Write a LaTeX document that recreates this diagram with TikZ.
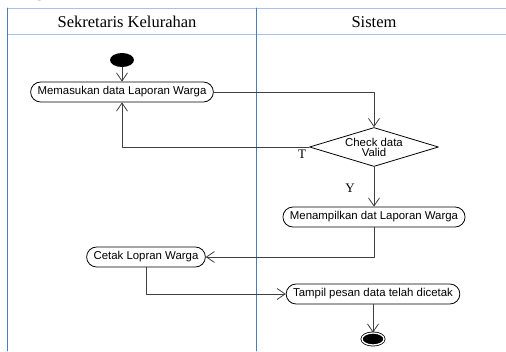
\documentclass[tikz,border=0pt]{standalone}
\usepackage{fontspec}
\setmainfont{Liberation Serif}
\setsansfont{Liberation Sans}
\usetikzlibrary{shapes.geometric,arrows.meta}
\definecolor{lanebiru}{HTML}{4A7EBB}
\definecolor{garismuda}{HTML}{A6C3E6}
\definecolor{panah}{HTML}{3F3F3F}
\begin{document}
\begin{tikzpicture}[x=1pt,y=-1pt,line cap=round,line join=round,
	aksi/.style={draw,rounded corners=10pt,minimum height=20pt,inner xsep=7pt,inner ysep=0pt,line width=0.8pt,font=\sffamily\fontsize{11.4}{12}\selectfont},
	keputusan/.style={draw,diamond,aspect=3.3,inner sep=0pt,minimum width=129pt,minimum height=39pt,line width=0.8pt,align=center,font=\sffamily\fontsize{11.4}{10}\selectfont},
	alur/.style={draw=panah,line width=0.8pt,-{Straight Barb[length=8pt,width=11pt]}},
	judul/.style={font=\fontsize{16.5}{18}\selectfont},
	syarat/.style={font=\fontsize{13}{14}\selectfont}]
	\useasboundingbox (0,0) rectangle (506,351);
	% swimlane
	\draw[garismuda,line width=0.8pt] (7,8)--(506,8) (7,34)--(506,34);
	\draw[lanebiru,line width=0.8pt] (7,8)--(7,351) (256,8)--(256,351);
	\node (potongan) at (40,-5) [anchor=base,font=\fontsize{24}{24}\selectfont] {g};
	\node[judul] (lane1) at (127,22) {Sekretaris Kelurahan};
	\node[judul] (lane2) at (374,22) {Sistem};
	% aktivitas
	\node[ellipse,fill=black,minimum width=24pt,minimum height=14pt,inner sep=0pt] (mulai) at (122,60) {};
	\node[aksi] (masuk) at (122,92) {Memasukan data Laporan Warga};
	\node[keputusan] (cek) at (374,147) {Check data\\Valid};
	\node[aksi] (tampil) at (374,217) {Menampilkan dat Laporan Warga};
	\node[aksi] (cetak) at (146,257) {Cetak Lopran Warga};
	\node[aksi] (pesan) at (373,294) {Tampil pesan data telah dicetak};
	\node[ellipse,draw=black,fill=black,line width=0.8pt,double=white,double distance=1.3pt,minimum width=22pt,minimum height=12pt,inner sep=0pt] (selesai) at (373,339) {};
	% alur
	\draw[alur] (mulai)--(masuk);
	\draw[alur] (masuk.east) -| (cek.north);
	\draw[alur] (cek.west) -| (masuk.south);
	\draw[alur] (cek.south)--(tampil.north);
	\draw[alur] (tampil.south) |- (cetak.east);
	\draw[alur] (cetak.south) |- (pesan.west);
	\draw[alur] (pesan.south)--(selesai.north);
	\node[syarat] (tidak) at (302,154) {T};
	\node[syarat] (ya) at (350,188) {Y};
\end{tikzpicture}
\end{document}
